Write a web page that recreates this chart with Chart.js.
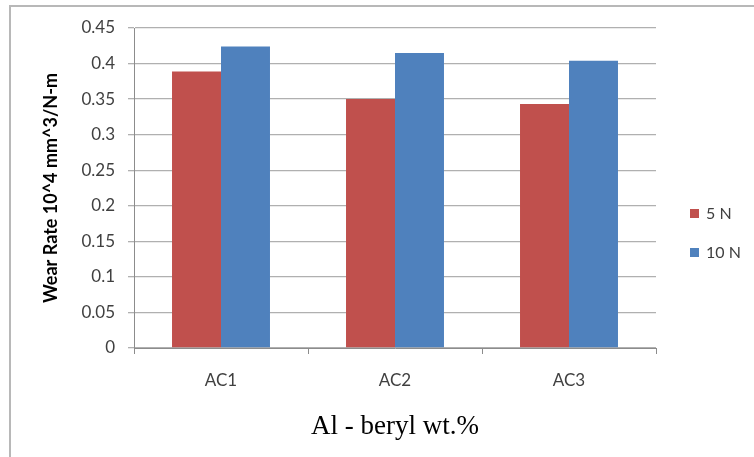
<!DOCTYPE html>
<html>
<head>
<meta charset="utf-8">
<script src="https://cdn.jsdelivr.net/npm/chart.js@4"></script>
<style>
  html, body { margin: 0; padding: 0; background: #fff; }
  #wrap { position: relative; width: 754px; height: 457px; overflow: hidden; }
  #frame { position: absolute; left: 9px; top: 5px; width: 760px; height: 470px;
           border: 2px solid #b8b8b8; box-sizing: border-box; }
  canvas { position: absolute; left: 0; top: 0; }
</style>
</head>
<body>
<div id="wrap">
  <div id="frame"></div>
  <canvas id="chart" width="754" height="457"></canvas>
</div>
<script>
'use strict';

const categories = ['AC1', 'AC2', 'AC3'];
const seriesNames = ['5 N', '10 N'];
const load5N = [0.389, 0.350, 0.343];
const load10N = [0.424, 0.415, 0.404];
const yTickLabels = ['0', '0.05', '0.1', '0.15', '0.2', '0.25', '0.3', '0.35', '0.4', '0.45'];
const colors = ['#C0504D', '#4F81BD'];

const tickColor = '#404040';

// legend on the right, drawn from the datasets
const sideLegend = {
  id: 'sideLegend',
  afterDraw(chart) {
    const ctx = chart.ctx;
    ctx.save();
    ctx.font = '16px Lato';
    ctx.textBaseline = 'middle';
    chart.data.datasets.forEach((ds, i) => {
      const y = 213 + i * 39;
      ctx.fillStyle = ds.backgroundColor;
      ctx.fillRect(690, y - 4, 9, 9);
      ctx.fillStyle = tickColor;
      ctx.fillText(ds.label, 706, y + 1);
    });
    ctx.restore();
  }
};

function renderChart() {
  const ctx = document.getElementById('chart').getContext('2d');

  const chartData = {
    labels: categories,
    datasets: [{
      label: seriesNames[0],
      data: load5N,
      backgroundColor: colors[0]
    },
    {
      label: seriesNames[1],
      data: load10N,
      backgroundColor: colors[1]
    }]
  };

  const chartOptions = {
    responsive: false,
    animation: false,
    layout: { padding: { left: 0, top: 28, right: 98, bottom: 0 } },
    categoryPercentage: 0.563,
    barPercentage: 1,
    plugins: {
      legend: { display: false },
      tooltip: { enabled: false }
    },
    scales: {
      x: {
        afterFit(scale) { scale.height = 109; },
        grid: { drawOnChartArea: false, tickLength: 6, color: '#8c8c8c' },
        border: { color: '#8c8c8c' },
        ticks: { color: tickColor, font: { family: 'Lato', size: 17 }, padding: 16 },
        title: {
          display: true,
          text: 'Al - beryl wt.%',
          color: '#000',
          font: { family: 'Liberation Serif', size: 27 },
          padding: { top: 0, bottom: 14 }
        }
      },
      y: {
        min: 0,
        max: 0.45,
        afterFit(scale) { scale.width = 134; },
        afterBuildTicks(scale) {
          scale.ticks = yTickLabels.map(t => ({ value: parseFloat(t) }));
        },
        grid: { color: '#b0b0b0', tickLength: 6, lineWidth: 1.3 },
        border: { color: '#8c8c8c' },
        ticks: {
          color: tickColor,
          font: { family: 'Lato', size: 17 },
          padding: 13,
          callback: (v, i) => yTickLabels[i]
        },
        title: {
          display: true,
          text: 'Wear Rate 10^4 mm^3/N-m',
          color: '#000',
          font: { family: 'Lato', size: 18, weight: 'bold' },
          padding: { top: 40, bottom: 0 }
        }
      }
    }
  };

  new Chart(ctx, {
    type: 'bar',
    data: chartData,
    options: chartOptions,
    plugins: [sideLegend]
  });
}

renderChart();
</script>
</body>
</html>
